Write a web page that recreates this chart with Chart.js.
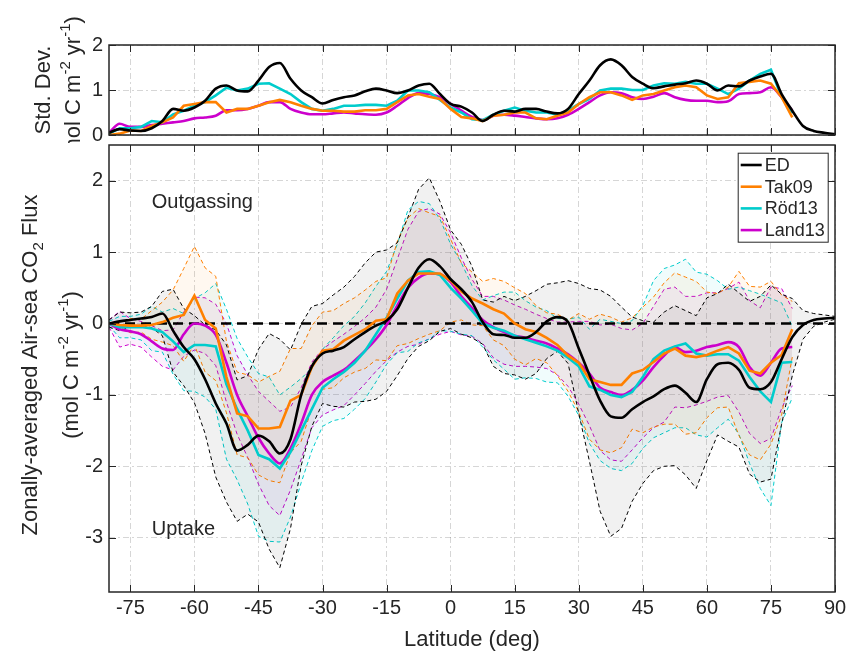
<!DOCTYPE html>
<html>
<head>
<meta charset="utf-8">
<script src="https://cdn.jsdelivr.net/npm/chart.js@4"></script>
<style>
  html, body { margin: 0; padding: 0; background: #fff; }
  #wrap { position: relative; width: 851px; height: 651px; overflow: hidden; }
  canvas { position: absolute; left: 0; }
  #sd { top: 0; }
  #flux { top: 143px; }
</style>
</head>
<body>
<div id="wrap">
  <canvas id="sd" width="851" height="143"></canvas>
  <canvas id="flux" width="851" height="508"></canvas>
</div>
<script>
// latitude grids (deg)
const LAT = [-80,-77.5,-75,-72.5,-70,-67.5,-65,-62.5,-60,-57.5,-55,-52.5,-50,-47.5,-45,-42.5,-40,-37.5,-35,-32.5,-30,-27.5,-25,-22.5,-20,-17.5,-15,-12.5,-10,-7.5,-5,-2.5,0,2.5,5,7.5,10,12.5,15,17.5,20,22.5,25,27.5,30,32.5,35,37.5,40,42.5,45,47.5,50,52.5,55,57.5,60,62.5,65,67.5,70,72.5,75,77.5,80,82.5,85,87.5,90];
const LAT80 = [-80,-77.5,-75,-72.5,-70,-67.5,-65,-62.5,-60,-57.5,-55,-52.5,-50,-47.5,-45,-42.5,-40,-37.5,-35,-32.5,-30,-27.5,-25,-22.5,-20,-17.5,-15,-12.5,-10,-7.5,-5,-2.5,0,2.5,5,7.5,10,12.5,15,17.5,20,22.5,25,27.5,30,32.5,35,37.5,40,42.5,45,47.5,50,52.5,55,57.5,60,62.5,65,67.5,70,72.5,75,77.5,80];

// zonal mean flux (mol C m-2 yr-1)
const ED_FLUX = [0,0.03,0.05,0.07,0.09,0.14,-0.1,-0.33,-0.5,-0.78,-1.12,-1.4,-1.78,-1.7,-1.57,-1.65,-1.82,-1.62,-1.0,-0.6,-0.42,-0.38,-0.33,-0.22,-0.12,-0.03,0.04,0.2,0.5,0.78,0.9,0.8,0.62,0.48,0.3,0.02,-0.15,-0.16,-0.2,-0.2,-0.12,0.03,0.09,0.02,-0.35,-0.72,-1.08,-1.3,-1.32,-1.2,-1.1,-1.02,-0.92,-0.87,-0.97,-1.1,-0.78,-0.57,-0.55,-0.65,-0.9,-0.92,-0.82,-0.5,-0.19,-0.02,0.05,0.07,0.08];
const TAK_FLUX = [0,-0.02,-0.03,-0.03,-0.02,0.02,0.08,0.12,0.39,0.05,-0.07,-0.75,-1.26,-1.3,-1.47,-1.47,-1.45,-1.08,-1.0,-0.61,-0.38,-0.36,-0.24,-0.16,-0.08,0.04,0.06,0.42,0.6,0.7,0.7,0.7,0.6,0.45,0.35,0.28,0.2,0.14,0.0,-0.08,-0.12,-0.2,-0.3,-0.45,-0.55,-0.78,-0.82,-0.86,-0.86,-0.7,-0.65,-0.54,-0.42,-0.35,-0.45,-0.47,-0.44,-0.38,-0.33,-0.42,-0.66,-0.7,-0.55,-0.44,-0.08];
const ROD_FLUX = [0,-0.05,-0.05,-0.05,-0.07,-0.12,-0.25,-0.4,-0.3,-0.3,-0.32,-0.85,-1.2,-1.5,-1.84,-1.9,-2.03,-1.8,-1.5,-1.2,-0.9,-0.78,-0.68,-0.55,-0.38,-0.15,0.08,0.35,0.6,0.72,0.73,0.68,0.5,0.35,0.18,0.0,-0.06,-0.1,-0.17,-0.22,-0.27,-0.32,-0.38,-0.48,-0.6,-0.88,-0.93,-1.0,-1.03,-0.96,-0.75,-0.5,-0.38,-0.32,-0.28,-0.42,-0.45,-0.43,-0.43,-0.52,-0.75,-0.95,-1.1,-0.55,-0.54];
const LAND_FLUX = [0,-0.08,-0.11,-0.15,-0.25,-0.35,-0.37,-0.15,0.0,-0.03,-0.16,-0.55,-1.0,-1.3,-1.6,-1.82,-1.96,-1.75,-1.4,-1.0,-0.82,-0.73,-0.65,-0.52,-0.38,-0.22,-0.02,0.25,0.5,0.64,0.7,0.69,0.58,0.38,0.22,0.05,-0.05,-0.12,-0.17,-0.2,-0.24,-0.28,-0.35,-0.43,-0.55,-0.7,-0.9,-0.96,-1.0,-0.93,-0.8,-0.61,-0.45,-0.33,-0.4,-0.38,-0.33,-0.3,-0.26,-0.33,-0.61,-0.73,-0.55,-0.35,-0.33];

// standard deviation (mol C m-2 yr-1)
const ED_SD = [0.05,0.13,0.1,0.09,0.15,0.31,0.58,0.54,0.61,0.76,1.03,1.1,0.99,0.97,1.21,1.51,1.6,1.25,0.99,0.84,0.7,0.78,0.84,0.88,0.97,1.03,0.99,0.93,0.99,1.1,1.14,0.91,0.69,0.63,0.5,0.31,0.45,0.54,0.52,0.58,0.58,0.52,0.48,0.58,0.91,1.21,1.55,1.68,1.55,1.29,1.14,1.04,1.08,1.12,1.15,1.21,1.14,0.99,1.1,1.08,1.21,1.3,1.36,0.91,0.54,0.2,0.09,0.05,0.02];
const TAK_SD = [0.0,0.03,0.1,0.09,0.2,0.28,0.39,0.65,0.69,0.73,0.73,0.5,0.58,0.58,0.65,0.73,0.78,0.73,0.65,0.58,0.54,0.54,0.52,0.52,0.55,0.55,0.58,0.73,0.88,0.91,0.85,0.8,0.58,0.4,0.37,0.31,0.43,0.45,0.5,0.5,0.37,0.35,0.43,0.5,0.69,0.84,0.95,0.95,0.88,0.78,0.88,0.91,0.99,1.06,1.1,1.06,0.88,0.8,0.84,1.15,1.18,1.21,1.14,0.84,0.39];
const ROD_SD = [0.03,0.15,0.15,0.18,0.31,0.28,0.46,0.54,0.65,0.73,0.88,1.05,0.99,1.03,1.14,1.15,1.03,0.91,0.73,0.58,0.54,0.58,0.65,0.65,0.67,0.67,0.65,0.76,0.99,0.99,0.95,0.78,0.61,0.5,0.35,0.33,0.45,0.54,0.61,0.54,0.5,0.5,0.45,0.54,0.69,0.8,0.99,1.03,1.03,1.0,1.0,1.1,1.15,1.14,1.18,1.14,1.14,1.03,0.91,1.03,1.21,1.36,1.45,0.84,0.5];
const LAND_SD = [0.05,0.25,0.18,0.18,0.22,0.25,0.28,0.31,0.37,0.39,0.43,0.55,0.55,0.58,0.65,0.73,0.73,0.58,0.5,0.46,0.46,0.48,0.5,0.48,0.46,0.45,0.5,0.65,0.82,0.93,0.91,0.84,0.69,0.54,0.4,0.33,0.43,0.45,0.43,0.4,0.37,0.35,0.37,0.45,0.58,0.73,0.88,0.95,0.93,0.84,0.8,0.85,0.93,0.84,0.78,0.76,0.76,0.73,0.75,0.91,0.93,0.95,1.06,0.84,0.54];

const SERIES_NAMES = ['ED', 'Tak09', 'Röd13', 'Land13'];
const X_TICKS = [-75, -60, -45, -30, -15, 0, 15, 30, 45, 60, 75, 90];
const FLUX_TICKS = [-3, -2, -1, 0, 1, 2];
const SD_TICKS = [0, 1, 2];
const ZERO_LINE = [-80, 90];

const FONT = '"Liberation Sans", Arial, Helvetica, sans-serif';
const INK = '#262626';
const GRID = 'rgba(0,0,0,0.16)';

const series = [
  { name: SERIES_NAMES[0], lat: LAT,   mean: ED_FLUX,   sd: ED_SD,   color: '#000000', band: 'rgba(0,0,0,0.055)',     smooth: true },
  { name: SERIES_NAMES[1], lat: LAT80, mean: TAK_FLUX,  sd: TAK_SD,  color: '#ff8000', band: 'rgba(255,128,0,0.06)',  smooth: false },
  { name: SERIES_NAMES[2], lat: LAT80, mean: ROD_FLUX,  sd: ROD_SD,  color: '#00cccc', band: 'rgba(0,204,204,0.06)',  smooth: false },
  { name: SERIES_NAMES[3], lat: LAT80, mean: LAND_FLUX, sd: LAND_SD, color: '#cc00cc', band: 'rgba(204,0,204,0.06)',  smooth: true }
];

function pts(xs, ys) {
  return xs.map((x, i) => ({ x: x, y: ys[i] }));
}

function lineSet(s, ys, order) {
  return {
    label: s.name,
    data: pts(s.lat, ys),
    borderColor: s.color,
    borderWidth: 2.6,
    pointRadius: 0,
    fill: false,
    order: order,
    cubicInterpolationMode: s.smooth ? 'monotone' : 'default',
    tension: 0
  };
}

// rotated text with super/subscripts, baseline at page x = bx
function richText(ctx, parts, bx, cy, size) {
  ctx.save();
  ctx.translate(bx, cy);
  ctx.rotate(-Math.PI / 2);
  const big = size + 'px ' + FONT;
  const small = Math.round(size * 0.7) + 'px ' + FONT;
  let w = 0;
  parts.forEach(p => { ctx.font = p.s ? small : big; p.w = ctx.measureText(p.t).width; w += p.w; });
  let x = -w / 2;
  ctx.fillStyle = INK;
  ctx.textBaseline = 'alphabetic';
  ctx.textAlign = 'left';
  parts.forEach(p => {
    ctx.font = p.s ? small : big;
    const dy = p.s === 'sup' ? -size * 0.45 : (p.s === 'sub' ? size * 0.25 : 0);
    ctx.fillText(p.t, x, dy);
    x += p.w;
  });
  ctx.restore();
}

const UNIT = () => [{ t: '(mol C m' }, { t: '-2', s: 'sup' }, { t: ' yr' }, { t: '-1', s: 'sup' }, { t: ')' }];

const frame = {
  id: 'frame',
  afterDatasetsDraw(chart) {
    const { ctx, chartArea: a, scales: { x, y } } = chart;
    ctx.save();
    ctx.strokeStyle = INK;
    ctx.lineWidth = 1;
    ctx.beginPath();
    x.ticks.forEach(t => {
      const px = Math.round(x.getPixelForValue(t.value)) + 0.5;
      ctx.moveTo(px, a.bottom); ctx.lineTo(px, a.bottom - 7);
      ctx.moveTo(px, a.top); ctx.lineTo(px, a.top + 7);
    });
    y.ticks.forEach(t => {
      const py = Math.round(y.getPixelForValue(t.value)) + 0.5;
      ctx.moveTo(a.left, py); ctx.lineTo(a.left + 7, py);
      ctx.moveTo(a.right, py); ctx.lineTo(a.right - 7, py);
    });
    ctx.stroke();
    ctx.lineWidth = 1.5;
    ctx.strokeRect(a.left, a.top, a.right - a.left, a.bottom - a.top);
    ctx.restore();
  }
};

function options(o) {
  return {
    responsive: false,
    animation: false,
    events: [],
    layout: { padding: { left: 0, right: 16, top: o.top, bottom: 0 } },
    plugins: { legend: { display: false }, tooltip: { enabled: false } },
    scales: {
      x: {
        type: 'linear', min: -80, max: 90,
        afterBuildTicks: s => { s.ticks = X_TICKS.map(v => ({ value: v })); },
        afterFit: s => { s.height = o.xh; s.paddingLeft = 0; s.paddingRight = 0; },
        ticks: { display: o.xLabels, autoSkip: false, maxRotation: 0, padding: 4, color: INK,
                 font: { family: FONT, size: 20 }, callback: v => String(v) },
        grid: { color: GRID, drawTicks: false, lineWidth: 1 },
        border: { display: false, dash: [6, 3, 2, 3] }
      },
      y: {
        type: 'linear', min: o.yMin, max: o.yMax,
        afterBuildTicks: s => { s.ticks = o.yTicks.map(v => ({ value: v })); },
        afterFit: s => { s.width = 109; s.paddingTop = 0; s.paddingBottom = 0; },
        ticks: { padding: 6, color: INK, font: { family: FONT, size: 20 }, callback: v => String(v) },
        grid: { color: GRID, drawTicks: false, lineWidth: 1 },
        border: { display: false, dash: [6, 3, 2, 3] }
      }
    }
  };
}

// ---- top panel: standard deviation ----
const sdTitle = {
  id: 'sdTitle',
  afterDraw(chart) {
    const ctx = chart.ctx;
    richText(ctx, [{ t: 'Std. Dev.' }], 50, 90, 22);
    richText(ctx, UNIT(), 80, 90, 22);
  }
};

new Chart(document.getElementById('sd'), {
  type: 'line',
  data: {
    datasets: series.map((s, i) => lineSet(s, s.sd, i))
  },
  options: options({ top: 45, xh: 8, xLabels: false, yMin: 0, yMax: 2, yTicks: SD_TICKS }),
  plugins: [frame, sdTitle]
});

// ---- main panel: zonal mean flux with +/- 1 sd bands ----
const fluxSets = series.map((s, i) => lineSet(s, s.mean, i));
fluxSets.push({
  label: 'zero',
  data: ZERO_LINE.map(x => ({ x: x, y: 0 })),
  borderColor: '#000000', borderWidth: 2.6, borderDash: [10, 6],
  pointRadius: 0, fill: false, order: 5
});
series.forEach((s, i) => {
  const up = s.mean.map((v, k) => v + s.sd[k]);
  const lo = s.mean.map((v, k) => v - s.sd[k]);
  fluxSets.push({ label: s.name + ' upper', data: pts(s.lat, up), borderColor: s.color, borderWidth: 1,
                  borderDash: [4, 3], pointRadius: 0, fill: false, order: 20 + i });
  fluxSets.push({ label: s.name + ' lower', data: pts(s.lat, lo), borderColor: s.color, borderWidth: 1,
                  borderDash: [4, 3], pointRadius: 0, fill: '-1', backgroundColor: s.band, order: 20 + i });
});

const fluxDecor = {
  id: 'fluxDecor',
  afterDraw(chart) {
    const { ctx, chartArea: a, scales: { x, y } } = chart;
    ctx.save();
    ctx.fillStyle = INK;
    ctx.font = '20px ' + FONT;
    ctx.textAlign = 'left';
    ctx.textBaseline = 'alphabetic';
    ctx.fillText('Outgassing', x.getPixelForValue(-70), y.getPixelForValue(1.615));
    ctx.fillText('Uptake', x.getPixelForValue(-70), y.getPixelForValue(-2.96));

    // x title
    ctx.font = '22px ' + FONT;
    ctx.textAlign = 'center';
    ctx.fillText('Latitude (deg)', (a.left + a.right) / 2, 503);

    // legend
    const left = a.right - 97.3, top = a.top + 7.7, w = 90, h = 89;
    ctx.fillStyle = '#ffffff';
    ctx.fillRect(left, top, w, h);
    ctx.strokeStyle = INK;
    ctx.lineWidth = 1;
    ctx.strokeRect(left + 0.5, top + 0.5, w, h);
    ctx.font = '18px ' + FONT;
    ctx.textAlign = 'left';
    ctx.textBaseline = 'middle';
    series.forEach((s, i) => {
      const cy = top + 12.3 + i * 21.7;
      ctx.strokeStyle = s.color;
      ctx.lineWidth = 2.6;
      ctx.beginPath();
      ctx.moveTo(left + 3, cy);
      ctx.lineTo(left + 24, cy);
      ctx.stroke();
      ctx.fillStyle = INK;
      ctx.fillText(s.name, left + 27, cy + 1);
    });
    ctx.restore();

    richText(ctx, [{ t: 'Zonally-averaged Air-sea CO' }, { t: '2', s: 'sub' }, { t: ' Flux' }], 37, 222, 22);
    richText(ctx, UNIT(), 78, 222, 22);
  }
};

new Chart(document.getElementById('flux'), {
  type: 'line',
  data: { datasets: fluxSets },
  options: options({ top: 2, xh: 59, xLabels: true, yMin: -3.76, yMax: 2.5, yTicks: FLUX_TICKS }),
  plugins: [frame, fluxDecor]
});
</script>
</body>
</html>
